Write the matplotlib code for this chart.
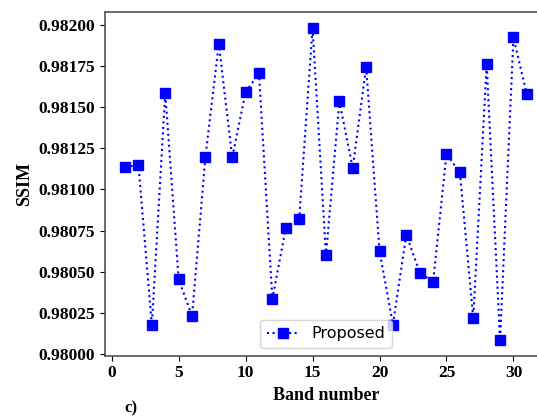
import matplotlib
matplotlib.use('Agg')
import matplotlib.pyplot as plt

# SSIM pro Band
bands = list(range(1, 32))
ssim = [0.981138, 0.981146, 0.980177, 0.981587, 0.980455, 0.980230,
        0.981198, 0.981885, 0.981194, 0.981591, 0.981704, 0.980334,
        0.980767, 0.980818, 0.981982, 0.980600, 0.981535, 0.981130,
        0.981744, 0.980626, 0.980179, 0.980725, 0.980495, 0.980439,
        0.981214, 0.981103, 0.980218, 0.981762, 0.980085, 0.981923,
        0.981577]
xticks = [0, 5, 10, 15, 20, 25, 30]
yticks = [0.98000, 0.98025, 0.98050, 0.98075, 0.98100, 0.98125,
          0.98150, 0.98175, 0.98200]

serif = ['Liberation Serif', 'DejaVu Serif']

fig = plt.figure(figsize=(5.37, 4.17), dpi=100)
ax = fig.add_axes([0.1955, 0.147, 0.823, 0.824])

ax.plot(bands, ssim, color='blue', linestyle=':', linewidth=1.5,
        marker='s', markersize=7, label='Proposed')

ax.set_xticks(xticks)
ax.set_yticks(yticks)
ax.set_xticklabels([str(t) for t in xticks], fontsize=12.5,
                   fontweight='bold', family=serif)
ax.set_yticklabels([f'{t:.5f}' for t in yticks], fontsize=12.5,
                   fontweight='bold', family=serif)
ax.set_xlabel('Band number', fontsize=13, fontweight='bold', family=serif)
ax.set_ylabel('SSIM', fontsize=13, fontweight='bold', family=serif)

for sp in ax.spines.values():
    sp.set_color('#444444')
    sp.set_linewidth(1.1)
ax.spines['right'].set_visible(False)

ax.legend(loc='lower center', fontsize=11.5)

fig.text(0.231, 0.011, 'c)', fontsize=12, fontweight='bold', family=serif)

fig.savefig('out.png', dpi=100)
